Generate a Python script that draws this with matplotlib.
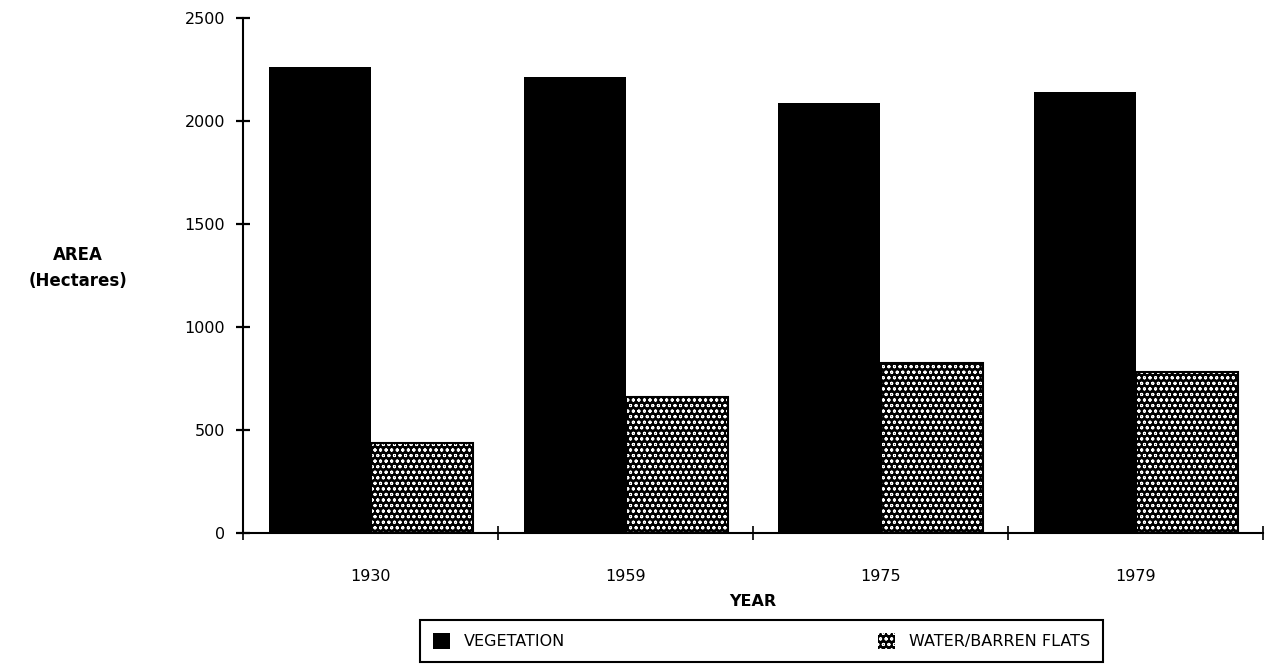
import matplotlib
matplotlib.use("Agg")
import matplotlib.pyplot as plt
import numpy as np

# Land cover areas by survey year (hectares)
years = ["1930", "1959", "1975", "1979"]
vegetation = [2262, 2214, 2087, 2139]
water_barren = [434, 657, 822, 782]
y_ticks = [0, 500, 1000, 1500, 2000, 2500]
series_names = ["VEGETATION", "WATER/BARREN FLATS"]

plt.rcParams['font.family'] = ['DejaVu Sans']
plt.rcParams['hatch.linewidth'] = 0.7

W, H = 1270, 670
fig = plt.figure(figsize=(W / 100, H / 100), dpi=100)
ax = fig.add_axes([243 / W, 1 - 532.7 / H, 1020 / W, 515 / H])

idx = np.arange(len(years))
bar_w = 0.4

veg = ax.bar(idx + 0.3, vegetation, width=bar_w, color='black',
             linewidth=0, label=series_names[0])
# dotted screen: black fill, white dot hatch
wat = ax.bar(idx + 0.7, water_barren, width=bar_w, color='black',
             edgecolor='white', linewidth=0, hatch='ooo',
             label=series_names[1])
ax.bar(idx + 0.7, water_barren, width=bar_w, fill=False,
       edgecolor='black', linewidth=1.5)

ax.set_xlim(0, len(years))
ax.set_ylim(0, 2500)

for side in ('top', 'right'):
    ax.spines[side].set_visible(False)
for side in ('left', 'bottom'):
    ax.spines[side].set_linewidth(1.5)

ax.set_yticks(y_ticks)
ax.set_yticklabels([str(v) for v in y_ticks])
ax.tick_params(axis='y', direction='inout', length=10, width=1.6,
               pad=8, labelsize=11.5)

ax.set_xticks(np.arange(len(years) + 1))
ax.set_xticklabels([])
ax.set_xticks(idx + 0.5, minor=True)
ax.set_xticklabels(years, minor=True)
ax.tick_params(axis='x', which='major', direction='inout', length=10, width=1.2)
ax.tick_params(axis='x', which='minor', length=0, pad=26, labelsize=11.5)

ax.set_xlabel("YEAR", fontsize=11.5, fontweight='bold', va='center')
ax.xaxis.set_label_coords(0.5, (532.7 - 601) / 515)

fig.text(78 / W, 1 - 268 / H, "AREA\n(Hectares)", ha='center', va='center',
         fontsize=12, fontweight='bold', linespacing=1.5)

leg = fig.legend(handles=[veg, wat], labels=series_names, ncol=2,
                 mode='expand', loc='center',
                 bbox_to_anchor=(420 / W, 1 - 665 / H, 683 / W, 48 / H),
                 borderaxespad=0, fancybox=False, edgecolor='black',
                 framealpha=1, handlelength=1.05, handleheight=1.15,
                 handletextpad=0.9, borderpad=0.8, fontsize=11.5)
leg.get_frame().set_linewidth(1.5)

fig.savefig("out.png", dpi=100, facecolor='white')
